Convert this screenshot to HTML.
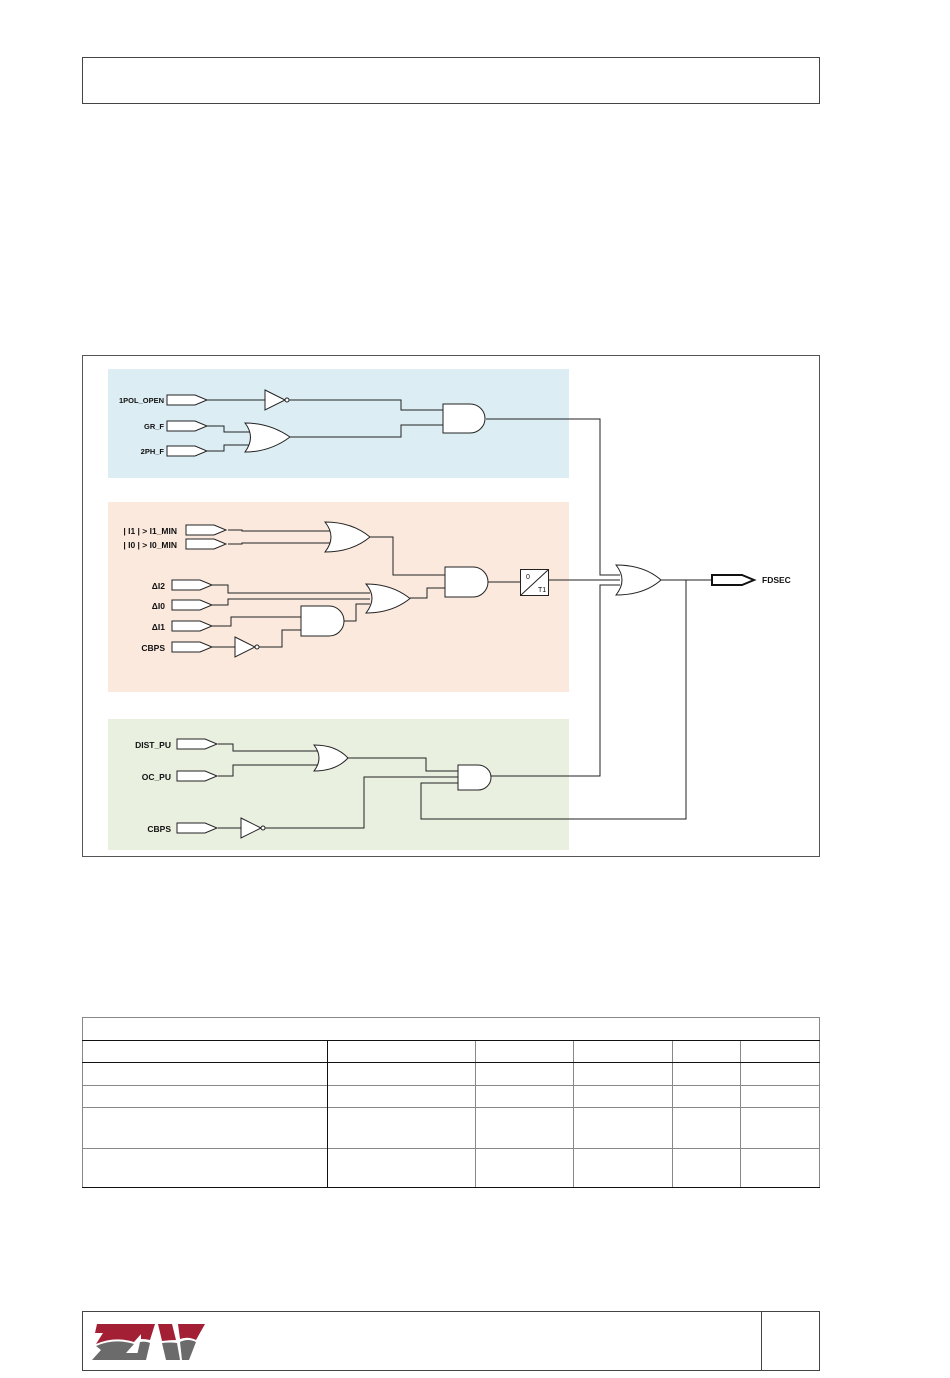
<!DOCTYPE html>
<html><head><meta charset="utf-8"><style>
html,body{margin:0;padding:0;background:#fff;}
svg{display:block;}
text{font-family:"Liberation Sans",sans-serif;font-size:8.5px;font-weight:bold;fill:#111;}
</style></head><body>
<svg width="950" height="1378" viewBox="0 0 950 1378" xmlns="http://www.w3.org/2000/svg">
<defs>
<g id="pin"><path d="M0,-5 H28 L40,0 L28,5 H0 Z" fill="#fff" stroke="#222" stroke-width="1"/></g>
</defs>
<rect x="82.5" y="57.5" width="737" height="46" fill="none" stroke="#444" stroke-width="1"/>
<rect x="82.5" y="355.5" width="737" height="501" fill="none" stroke="#555" stroke-width="1"/>
<rect x="108" y="369" width="461" height="109" fill="#dcedf3"/>
<rect x="108" y="502" width="461" height="190" fill="#fbe9dd"/>
<rect x="108" y="719" width="461" height="131" fill="#eaf0e0"/>

<g fill="none" stroke="#222" stroke-width="1">
<path d="M207,400H265M289,400H401V410H443"/>
<path d="M207,426H224V432H250M207,451H224V445H250M290,437H401V425H443"/>
<path d="M486,419H600V575H620"/>
<path d="M228,530H242V531H330M228,544H242V543H330"/>
<path d="M370,537H393V575H445"/>
<path d="M488,582H520M549,580H620"/>
<path d="M212,585H228V593H370M212,605H228V599H370"/>
<path d="M212,626H231V617H301M259,647H282V630H301"/>
<path d="M344,621H356V604H370M410,598H427V588H445"/>
<path d="M212,647H235"/>
<path d="M218,744H233V751H318M218,776H233V765H318"/>
<path d="M348,758H426V771H458"/>
<path d="M218,828H241M265,828H364V777H458"/>
<path d="M491,776H600V585H620"/>
<path d="M661,580H712M686,580V819H421V783H458"/>
</g>

<g fill="#fff" stroke="#222" stroke-width="1">
<path d="M265,390L285,400L265,410Z"/><circle cx="287" cy="400" r="2"/>
<path d="M245,423Q270,423 290,437Q270,452 245,452Q256,437 245,423Z"/>
<path d="M443,404H470A15,14.5 0 0 1 470,433H443Z"/>
<path d="M325,522Q352,522 370,537Q352,552 325,552Q337,537 325,522Z"/>
<path d="M445,567H473A15,15 0 0 1 473,597H445Z"/>
<rect x="520.5" y="569.5" width="28" height="26"/>
<path d="M366,584Q392,584 410,598.5Q392,613 366,613Q378,598 366,584Z"/>
<path d="M301,606H329A15,15 0 0 1 329,636H301Z"/>
<path d="M235,637L255,647L235,657Z"/><circle cx="257" cy="647" r="2"/>
<path d="M616,565Q644,565 661,580Q644,595 616,595Q628,580 616,565Z"/>
<path d="M314,745Q336,745 348,758Q336,771 314,771Q324,758 314,745Z"/>
<path d="M458,765H478A13,12.5 0 0 1 478,790H458Z"/>
<path d="M241,818L261,828L241,838Z"/><circle cx="263" cy="828" r="2"/>
</g>
<line x1="521" y1="595" x2="548" y2="570" stroke="#222" stroke-width="1"/>
<text x="526" y="579" style="font-size:7px;font-weight:normal">0</text>
<text x="538" y="592" style="font-size:7px;font-weight:normal">T1</text>

<use href="#pin" x="167" y="400"/>
<use href="#pin" x="167" y="426"/>
<use href="#pin" x="167" y="451"/>
<use href="#pin" x="186" y="530"/>
<use href="#pin" x="186" y="544"/>
<use href="#pin" x="172" y="585"/>
<use href="#pin" x="172" y="605"/>
<use href="#pin" x="172" y="626"/>
<use href="#pin" x="172" y="647"/>
<use href="#pin" x="177" y="744"/>
<use href="#pin" x="177" y="776"/>
<use href="#pin" x="177" y="828"/>
<path d="M712,575H742L754,580L742,585H712Z" fill="#fff" stroke="#111" stroke-width="2"/>

<g text-anchor="end">
<text x="164" y="403" style="font-size:7.5px">1POL_OPEN</text>
<text x="164" y="429" style="font-size:7.5px">GR_F</text>
<text x="164" y="454" style="font-size:7.5px">2PH_F</text>
<text x="177" y="534">| I1 | &gt; I1_MIN</text>
<text x="177" y="548">| I0 | &gt; I0_MIN</text>
<text x="165" y="589">ΔI2</text>
<text x="165" y="609">ΔI0</text>
<text x="165" y="630">ΔI1</text>
<text x="165" y="651">CBPS</text>
<text x="171" y="748">DIST_PU</text>
<text x="171" y="780">OC_PU</text>
<text x="171" y="832">CBPS</text>
</g>
<text x="762" y="583">FDSEC</text>

<g fill="none" stroke="#888" stroke-width="1">
<rect x="82.5" y="1017.5" width="737" height="170"/>
<path d="M82,1085.5H820M82,1107.5H820M82,1148.5H820"/>
<path d="M475.5,1040V1188M573.5,1040V1188M672.5,1040V1188M740.5,1040V1188"/>
</g>
<g fill="none" stroke="#111" stroke-width="1">
<path d="M82,1040.5H820M82,1062.5H820"/>
<path d="M327.5,1040V1188"/>
<path d="M82,1187.5H820"/>
</g>

<rect x="82.5" y="1311.5" width="737" height="59" fill="none" stroke="#444" stroke-width="1"/>
<line x1="761.5" y1="1311" x2="761.5" y2="1371" stroke="#444"/>
<g>
<path d="M97,1324H150L134,1342Q115,1336 96,1344L103,1333H95Z" fill="#a31f34"/>
<path d="M141,1324H155L150,1340Q146,1339 141,1339Z" fill="#a31f34"/>
<path d="M158,1324H172L176,1340Q170,1340 162,1341Z" fill="#a31f34"/>
<path d="M178,1324H205L196,1340Q188,1336 180,1339Z" fill="#a31f34"/>
<path d="M96,1346Q115,1338 134,1344L126,1353H140L137,1360H92L101,1350Z" fill="#6b6b6b"/>
<path d="M140,1342Q146,1341 150,1343L146,1360H136Z" fill="#6b6b6b"/>
<path d="M162,1343Q170,1342 177,1343L180,1360H166Z" fill="#6b6b6b"/>
<path d="M180,1342Q188,1338 196,1342L189,1360H182Z" fill="#6b6b6b"/>
</g>
</svg>
</body></html>
